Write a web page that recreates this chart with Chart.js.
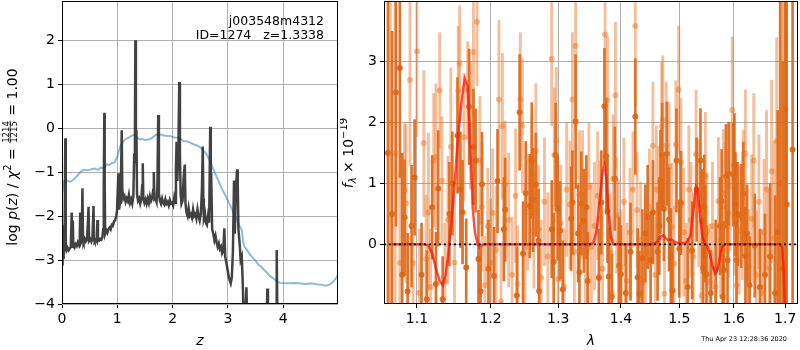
<!DOCTYPE html>
<html>
<head>
<meta charset="utf-8">
<script src="https://cdn.jsdelivr.net/npm/chart.js@4.4.1/dist/chart.umd.min.js"></script>
<style>
  html, body { margin: 0; padding: 0; background: #fff; }
  #wrap { position: relative; width: 800px; height: 350px; overflow: hidden; }
  canvas { position: absolute; top: 0; }
  #pz { left: 0; }
  #spec { left: 340px; }
</style>
</head>
<body>
<div id="wrap">
  <canvas id="pz" width="345" height="350"></canvas>
  <canvas id="spec" width="460" height="350"></canvas>
</div>
<script>
// redshift probability, log p(z)
const zGrid = [
  0.000,0.010,0.020,0.030,0.045,0.060,0.068,0.080,0.100,0.120,
  0.140,0.160,0.175,0.185,0.195,0.205,0.225,0.245,0.265,0.285,
  0.305,0.320,0.330,0.340,0.355,0.370,0.380,0.390,0.410,0.430,
  0.450,0.470,0.480,0.490,0.510,0.530,0.550,0.570,0.580,0.590,
  0.610,0.630,0.640,0.650,0.670,0.690,0.710,0.730,0.745,0.755,
  0.765,0.772,0.780,0.800,0.820,0.840,0.860,0.880,0.900,0.920,
  0.940,0.960,0.980,0.995,1.020,1.030,1.050,1.065,1.080,1.090,
  1.110,1.130,1.150,1.170,1.190,1.210,1.230,1.250,1.270,1.290,
  1.305,1.318,1.326,1.336,1.346,1.356,1.375,1.395,1.415,1.435,
  1.450,1.460,1.470,1.490,1.510,1.530,1.550,1.570,1.590,1.610,
  1.630,1.650,1.660,1.670,1.690,1.710,1.725,1.740,1.752,1.770,
  1.790,1.810,1.830,1.850,1.870,1.890,1.910,1.930,1.950,1.970,
  1.990,2.010,2.030,2.050,2.060,2.072,2.085,2.105,2.120,2.132,
  2.145,2.160,2.180,2.200,2.220,2.232,2.250,2.270,2.290,2.310,
  2.330,2.350,2.370,2.390,2.410,2.430,2.450,2.470,2.490,2.510,
  2.530,2.545,2.555,2.565,2.585,2.600,2.620,2.640,2.660,2.680,
  2.690,2.700,2.715,2.735,2.755,2.775,2.795,2.815,2.835,2.855,
  2.875,2.895,2.915,2.935,2.950,2.970,2.990,3.010,3.030,3.050,
  3.070,3.090,3.110,3.125,3.140,3.165,3.178,3.190,3.210,3.230,
  3.250,3.270,3.285,3.300,3.320,3.335,3.345,3.400,3.500,3.600,
  3.700,3.712,3.724,3.800,3.870,3.882,3.894,4.000,4.500,5.000
];
const logPz = [
  -3.10,-2.20,-2.95,-2.80,-2.75,-0.23,-2.70,-2.78,-2.72,-2.78,
  -2.74,-2.70,-1.92,-2.70,-2.10,-2.68,-2.72,-2.64,-2.68,-2.60,
  -2.66,-2.58,-1.92,-2.62,-2.58,-1.37,-2.56,-2.60,-2.52,-2.58,
  -2.54,-2.10,-1.79,-2.56,-2.52,-2.58,-2.50,-1.77,-2.55,-2.58,
  -2.54,-2.58,-2.09,-2.55,-2.56,-2.52,-2.54,-2.48,-2.30,-1.40,
   0.35,-1.20,-2.40,-2.32,-2.38,-2.30,-2.26,-2.30,-2.20,-2.22,
  -2.12,-2.10,-2.00,-1.88,-1.03,-1.85,-1.70,-1.30,-0.05,-1.40,
  -1.60,-1.55,-1.68,-1.60,-1.66,-1.52,-1.70,-1.62,-1.72,-1.55,
  -0.60,-0.40, 2.00,-0.80,-0.05,-1.50,-1.65,-1.60,-1.72,-1.62,
  -1.30,-0.80,-1.60,-1.70,-1.62,-1.72,-1.60,-1.70,-1.55,-1.65,
  -1.58,-1.40,-1.00,-1.62,-1.60,-1.68,-1.30, 0.30,-1.50,-1.65,
  -1.72,-1.60,-1.70,-1.74,-1.62,-1.72,-1.68,-1.76,-1.64,-1.72,
  -1.70,-1.76,-1.58,-1.70,-0.90,-0.31,-1.20,-0.40, 1.05,-0.60,
  -1.50,-1.72,-1.65,-1.10,-0.83,-1.70,-1.92,-2.00,-1.82,-2.00,
  -1.96,-2.04,-1.85,-2.00,-1.96,-2.06,-1.85,-2.00,-2.10,-1.95,
  -1.40,-0.42,-1.60,-2.05,-1.95,-2.15,-2.20,-2.00,-2.15, 0.03,
  -1.30,-1.24,-2.30,-2.40,-2.55,-2.45,-2.60,-2.70,-2.62,-2.75,
  -2.70,-2.85,-2.80,-2.28,-2.92,-3.05,-3.20,-3.35,-3.45,-3.53,
  -3.40,-2.80,-1.19,-2.40,-1.50,-0.94,-1.30,-2.30,-2.60,-3.00,
  -2.92,-3.60,-4.30,-4.20,-4.10,-3.62,-4.30,-4.60,-4.80,-4.70,
  -4.50,-3.65,-4.50,-4.60,-4.40,-2.77,-4.40,-4.80,-5.00,-5.50
];

// template-fit chi2 curve (scaled)
const zChi = [
  0.00,0.03,0.06,0.10,0.15,0.20,0.25,0.30,0.35,0.40,
  0.45,0.50,0.55,0.60,0.65,0.70,0.75,0.80,0.85,0.90,
  0.95,1.00,1.05,1.10,1.15,1.20,1.25,1.30,1.35,1.40,
  1.45,1.50,1.55,1.60,1.65,1.70,1.75,1.80,1.85,1.90,
  1.95,2.00,2.05,2.10,2.15,2.20,2.25,2.30,2.35,2.40,
  2.45,2.50,2.55,2.60,2.65,2.70,2.75,2.80,2.85,2.90,
  2.95,3.00,3.05,3.10,3.15,3.20,3.25,3.28,3.30,3.35,
  3.40,3.45,3.50,3.55,3.60,3.65,3.70,3.75,3.80,3.85,
  3.90,3.95,4.00,4.10,4.20,4.30,4.40,4.50,4.60,4.70,
  4.75,4.80,4.85,4.90,4.95,5.00
];
const chiCurve = [
  -1.50,-1.22,-1.18,-1.20,-1.22,-1.18,-1.12,-1.05,-0.98,-0.95,
  -0.96,-0.95,-0.93,-0.92,-0.95,-0.90,-0.92,-0.82,-0.84,-0.80,
  -0.78,-0.65,-0.42,-0.32,-0.25,-0.22,-0.18,-0.15,-0.20,-0.26,
  -0.25,-0.27,-0.26,-0.25,-0.20,-0.15,-0.15,-0.15,-0.17,-0.18,
  -0.18,-0.20,-0.22,-0.22,-0.25,-0.30,-0.30,-0.32,-0.35,-0.38,
  -0.40,-0.44,-0.50,-0.57,-0.68,-0.82,-0.98,-1.12,-1.26,-1.40,
  -1.52,-1.65,-1.78,-1.92,-2.05,-2.20,-2.32,-2.62,-2.70,-2.78,
  -2.88,-2.95,-3.02,-3.10,-3.15,-3.22,-3.28,-3.35,-3.40,-3.45,
  -3.50,-3.52,-3.53,-3.53,-3.52,-3.53,-3.55,-3.53,-3.55,-3.56,
  -3.58,-3.58,-3.55,-3.50,-3.42,-3.32
];

// spectrum, grism orientation A (light) and B (dark), flux in 1e-19
const lamLight = [
  1.066,1.072,1.078,1.084,1.086,1.091,1.095,1.100,1.103,1.109,
  1.112,1.115,1.118,1.122,1.125,1.130,1.133,1.137,1.141,1.145,
  1.150,1.155,1.157,1.163,1.168,1.172,1.176,1.181,1.185,1.188,
  1.192,1.196,1.200,1.203,1.208,1.212,1.215,1.217,1.221,1.226,
  1.231,1.236,1.239,1.243,1.246,1.250,1.254,1.260,1.263,1.266,
  1.270,1.274,1.279,1.284,1.290,1.294,1.297,1.300,1.304,1.309,
  1.313,1.318,1.322,1.325,1.327,1.333,1.338,1.342,1.348,1.352,
  1.357,1.362,1.366,1.370,1.374,1.378,1.382,1.385,1.387,1.391,
  1.393,1.396,1.400,1.405,1.410,1.415,1.420,1.424,1.427,1.433,
  1.437,1.441,1.448,1.454,1.458,1.460,1.464,1.469,1.471,1.474,
  1.477,1.482,1.487,1.491,1.494,1.499,1.503,1.508,1.512,1.517,
  1.521,1.525,1.530,1.535,1.540,1.547,1.550,1.555,1.560,1.566,
  1.571,1.575,1.580,1.584,1.590,1.593,1.597,1.601,1.605,1.610,
  1.616,1.618,1.622,1.625,1.628,1.634,1.638,1.643,1.648,1.653,
  1.658,1.663,1.668,1.673,1.678,1.683,1.688,1.693,1.697
];
const fluxLight = [
   2.00, 1.50,-0.30, 0.89, 0.67, 2.70,-0.30, 3.17,-0.80, 1.66,
  -0.24, 0.53,-0.70, 1.38, 1.44, 2.53, 1.05,-0.60, 0.40, 1.60,
  -0.30, 2.53, 2.97, 1.76, 2.53, 1.96, 3.16, 3.66, 1.38, 0.61,
  -0.67, 0.30,-0.30, 0.52,-0.09, 2.38,-0.94, 1.94, 0.98, 0.40,
  -0.50, 0.80,-0.65, 2.38, 1.95,-0.05, 0.53, 1.08, 0.23, 1.54,
   0.25,-0.55, 0.70,-0.20, 3.05, 1.47, 1.71,-0.57, 0.35,-0.69,
   0.90, 0.65, 2.38,-0.12, 3.26, 0.82, 0.82,-0.07, 0.94,-0.04,
   0.30, 0.80, 0.42,-0.40, 3.45, 2.37,-0.12,-0.80, 1.08, 2.45,
   0.48, 0.01,-0.38, 0.70,-0.60, 0.20, 0.90, 3.59, 0.56, 0.07,
  -0.62,-0.15, 0.62, 1.62,-0.50, 0.90, 0.66, 1.94, 2.05,-0.81,
   1.62, 1.28, 0.29,-0.32, 1.64, 2.54, 1.35, 0.20,-0.60, 0.90,
   0.40,-0.20, 1.48, 0.68,-0.84, 1.12, 0.23,-0.62, 0.30,-0.70,
   0.71, 0.08, 0.84, 0.62, 0.51, 0.95, 2.21, 0.44,-0.67, 0.23,
   0.47, 0.83, 1.49,-0.02,-0.37, 0.42, 1.38,-0.50, 0.70,-0.80,
   0.20, 0.90,-0.40, 1.20, 0.10, 1.70,-0.30, 2.20, 1.00
];
const errLight = [
  3.00,2.60,1.50,1.10,1.30,1.40,1.30,1.40,1.05,1.20,
  1.05,1.30,0.95,1.10,1.20,0.95,1.05,0.95,1.05,1.30,
  1.10,1.05,0.95,1.05,0.80,1.05,1.05,1.05,1.05,1.05,
  0.80,0.95,1.05,1.05,1.05,1.30,0.95,1.20,1.05,1.10,
  0.95,1.10,0.95,1.10,1.10,1.05,0.95,1.05,0.95,1.10,
  1.05,0.95,1.05,1.05,1.10,1.10,1.20,1.05,0.95,0.95,
  1.10,1.05,1.10,1.05,1.40,1.05,1.05,1.05,1.05,1.05,
  1.05,1.05,0.95,0.95,1.10,1.05,0.95,0.95,1.05,1.20,
  0.95,1.05,0.95,1.05,0.95,1.05,0.95,1.30,0.95,0.95,
  0.80,0.95,0.95,1.05,0.95,1.05,0.95,1.05,1.05,0.95,
  1.05,1.05,1.05,0.95,1.05,1.05,1.05,1.05,0.95,1.05,
  0.95,1.05,1.05,1.05,0.95,1.05,0.95,0.95,1.05,0.95,
  1.05,0.95,1.05,1.05,1.05,1.05,1.20,0.95,0.95,1.05,
  1.05,1.05,1.05,0.95,0.95,1.05,1.10,1.05,1.10,1.05,
  1.20,1.30,1.30,1.50,1.60,1.70,2.20,2.60,3.00
];
const lamDark = [
  1.063,1.068,1.073,1.078,1.081,1.084,1.088,1.093,1.097,1.106,
  1.113,1.120,1.125,1.128,1.134,1.143,1.147,1.154,1.158,1.161,
  1.166,1.170,1.176,1.179,1.183,1.186,1.188,1.197,1.205,1.210,
  1.219,1.221,1.238,1.242,1.247,1.251,1.257,1.260,1.262,1.266,
  1.270,1.271,1.290,1.293,1.296,1.299,1.303,1.307,1.320,1.322,
  1.327,1.331,1.333,1.336,1.340,1.344,1.346,1.364,1.368,1.373,
  1.376,1.378,1.380,1.385,1.390,1.397,1.400,1.408,1.416,1.424,
  1.428,1.431,1.436,1.441,1.445,1.450,1.454,1.462,1.465,1.467,
  1.470,1.473,1.478,1.482,1.485,1.488,1.495,1.500,1.503,1.515,
  1.523,1.531,1.538,1.541,1.543,1.545,1.547,1.549,1.557,1.566,
  1.574,1.577,1.579,1.581,1.585,1.588,1.590,1.599,1.601,1.603,
  1.605,1.607,1.614,1.618,1.622,1.625,1.630,1.640,1.650,1.660,
  1.670,1.680,1.685,1.690,1.695,1.700,1.703,1.715
];
const fluxDark = [
   1.50, 0.50, 2.50, 2.90,-0.50, 0.44,-0.77, 0.30, 1.10,-0.50,
  -0.90, 0.61,-0.65, 0.92,-0.90, 0.50, 1.00, 1.79, 0.90, 0.53,
  -0.38, 2.26, 1.60, 1.38,-0.24,-0.77, 0.99,-0.40,-0.52, 1.04,
   0.25, 0.57,-0.84, 2.17,-0.15, 0.84, 0.63, 1.38, 0.73, 0.98,
   0.06,-0.77, 0.25,-0.29, 1.47, 0.59, 0.23,-0.74, 0.42, 0.69,
   2.02, 0.18,-0.46, 0.67, 0.39, 0.61,-0.60,-0.55, 0.69, 2.27,
   1.45, 0.55,-0.53,-0.86, 1.08,-0.35,-0.49,-0.80,-0.12, 2.10,
  -0.54,-0.81,-0.23, 0.18, 0.45,-0.26, 0.53,-0.12, 0.30, 1.03,
   1.47, 0.58, 1.49, 0.41,-0.21,-0.76, 1.38,-0.07, 0.68,-0.70,
  -0.10, 0.90, 1.38, 0.38,-0.39, 0.62, 0.18,-0.49,-0.80,-0.40,
   0.30, 0.71,-0.86,-0.42, 1.12,-0.26, 1.16, 1.15, 1.30, 0.66,
  -0.26, 0.50, 0.47, 0.83,-0.19, 0.18,-0.67,-0.02,-0.70,-0.50,
  -0.20,-0.80, 0.20, 1.00,-0.40, 2.23, 0.66, 1.56
];
const errDark = [
  3.50,3.00,2.20,1.80,2.00,0.95,0.95,1.00,0.95,0.85,
  0.80,0.85,0.85,0.95,0.70,0.85,0.85,0.95,0.95,0.85,
  0.80,0.95,0.95,0.85,0.80,0.70,0.85,0.80,0.80,0.85,
  0.85,0.85,0.80,0.95,0.85,0.85,0.85,0.95,0.85,0.85,
  0.85,0.80,0.80,0.80,0.85,0.85,0.80,0.80,0.85,0.85,
  1.10,0.80,0.80,0.85,0.85,0.85,0.80,0.80,0.85,0.95,
  0.95,0.85,0.80,0.70,0.85,0.80,0.80,0.80,0.80,0.95,
  0.80,0.70,0.80,0.80,0.85,0.80,0.85,0.80,0.80,0.85,
  0.85,0.85,0.85,0.85,0.80,0.80,0.85,0.80,0.85,0.80,
  0.80,0.85,0.85,0.85,0.80,0.85,0.80,0.80,0.70,0.80,
  0.80,0.85,0.70,0.80,0.85,0.80,0.85,0.85,0.85,0.85,
  0.80,0.85,0.85,0.85,0.80,0.80,0.80,0.85,0.95,1.00,
  1.20,1.60,2.00,3.00,3.40,3.50,3.50,3.00
];

// best-fit line model
const lamModel = [
  1.068,1.110,1.115,1.120,1.125,1.130,1.134,1.138,1.142,1.146,
  1.150,1.155,1.160,1.164,1.168,1.172,1.175,1.178,1.182,1.185,
  1.190,1.350,1.355,1.360,1.365,1.370,1.373,1.376,1.380,1.384,
  1.388,1.455,1.462,1.468,1.472,1.476,1.480,1.486,1.492,1.500,
  1.510,1.515,1.520,1.525,1.530,1.533,1.537,1.541,1.545,1.550,
  1.555,1.560,1.565,1.568,1.572,1.576,1.580,1.585,1.690,1.694,
  1.697,1.700
];
const fluxModel = [
   0.00, 0.00,-0.02,-0.15,-0.40,-0.60,-0.67,-0.50,-0.10, 0.40,
   1.00, 1.80, 2.40, 2.72, 2.60, 1.50, 0.60, 0.20, 0.00,-0.05,
   0.00, 0.00, 0.03, 0.20, 0.70, 1.20, 1.30, 1.10, 0.50, 0.10,
   0.00, 0.00, 0.05, 0.13, 0.15, 0.10, 0.07, 0.08, 0.04, 0.02,
   0.02, 0.05, 0.15, 0.55, 0.95, 0.90, 0.50, 0.15, 0.02,-0.02,
  -0.15,-0.35,-0.48,-0.45,-0.30,-0.10,-0.02, 0.00, 0.00,-0.05,
  -0.40,-1.20
];

const zTicks = [0, 1, 2, 3, 4];
const pzTicks = [-4, -3, -2, -1, 0, 1, 2];
const lamTicks = [1.1, 1.2, 1.3, 1.4, 1.5, 1.6, 1.7];
const fluxTicks = [0, 1, 2, 3];

const FONT = '"DejaVu Sans"';
Chart.defaults.font.family = FONT;
Chart.defaults.color = '#000';

const minus = v => (v < 0 ? '\u2212' + Math.abs(v) : String(v));

// fixed axis band; label overhang must not shrink the plot area
function fixedFit(side, size) {
  return s => {
    s[side] = size;
    s.paddingTop = 0; s.paddingBottom = 0; s.paddingLeft = 0; s.paddingRight = 0;
  };
}

function axis(min, max, ticks, fmt, fit, type) {
  return {
    type: type || 'linear',
    min: min,
    max: max,
    offset: false,
    afterBuildTicks: s => { s.ticks = ticks.map(v => ({ value: v })); },
    afterFit: fit,
    border: { display: false },
    grid: { color: '#b0b0b0', lineWidth: 1, tickColor: '#000', tickLength: 4, offset: false },
    ticks: { font: { size: 14 }, color: '#000', padding: 3, autoSkip: false, maxRotation: 0, callback: fmt }
  };
}

// black box around the plotting area
const frame = {
  id: 'frame',
  afterDatasetsDraw(chart) {
    const { ctx, chartArea: a } = chart;
    ctx.save();
    ctx.strokeStyle = '#000';
    ctx.lineWidth = 1;
    ctx.strokeRect(a.left + 0.5, a.top + 0.5, a.right - a.left - 1, a.bottom - a.top - 1);
    ctx.restore();
  }
};

// draw a row of text pieces (fonts, offsets, fractions), optionally rotated
function richText(ctx, parts, x, y, rotate) {
  ctx.save();
  ctx.translate(x, y);
  if (rotate) ctx.rotate(-Math.PI / 2);
  ctx.fillStyle = '#000';
  ctx.textBaseline = 'alphabetic';
  let total = 0;
  parts.forEach(p => {
    ctx.font = p.font;
    p.w = p.frac
      ? Math.max(ctx.measureText(p.frac[0]).width, ctx.measureText(p.frac[1]).width) + 2
      : ctx.measureText(p.text).width;
    total += p.w;
  });
  let cx = -total / 2;
  parts.forEach(p => {
    ctx.font = p.font;
    if (p.frac) {
      ctx.textAlign = 'center';
      ctx.fillText(p.frac[0], cx + p.w / 2, -8.5);
      ctx.fillText(p.frac[1], cx + p.w / 2, 0);
      ctx.fillRect(cx + 0.5, -7.3, p.w - 1, 0.8);
    } else {
      ctx.textAlign = 'left';
      ctx.fillText(p.text, cx, p.dy || 0);
    }
    cx += p.w;
  });
  ctx.restore();
}

const F = '14px ' + FONT, FI = 'italic 14px ' + FONT;

const pzLabels = {
  id: 'pzLabels',
  afterDraw(chart) {
    const ctx = chart.ctx;
    richText(ctx, [
      { text: 'log ', font: F }, { text: 'p', font: FI }, { text: '(', font: F },
      { text: 'z', font: FI }, { text: ') / ', font: F }, { text: '\u03c7', font: FI },
      { text: '2', font: '10px ' + FONT, dy: -6 }, { text: ' = ', font: F },
      { frac: ['1214', '1215'], font: '8.5px ' + FONT }, { text: ' = 1.00', font: F }
    ], 17, 157, true);
    richText(ctx, [{ text: 'z', font: FI }], 200, 345, false);
    ctx.save();
    ctx.font = '12.5px ' + FONT;
    ctx.textAlign = 'right';
    ctx.fillStyle = '#000';
    ctx.fillText('j003548m4312', 324, 25);
    ctx.fillText('ID=1274   z=1.3338', 324, 39);
    ctx.restore();
  }
};

const specLabels = {
  id: 'specLabels',
  afterDraw(chart) {
    const ctx = chart.ctx;
    richText(ctx, [
      { text: 'f', font: FI }, { text: '\u03bb', font: 'italic 10px ' + FONT, dy: 3 },
      { text: ' \u00d7 10', font: F }, { text: '\u221219', font: '10px ' + FONT, dy: -6 }
    ], 13, 153, true);
    richText(ctx, [{ text: '\u03bb', font: FI }], 251, 345, false);
    ctx.save();
    ctx.font = '6.5px ' + FONT;
    ctx.textAlign = 'right';
    ctx.fillStyle = '#000';
    ctx.fillText('Thu Apr 23 12:28:36 2020', 447, 341);
    ctx.restore();
  }
};

new Chart(document.getElementById('pz'), {
  type: 'scatter',
  data: {
    datasets: [
      {
        data: zGrid.map((z, i) => ({ x: z, y: logPz[i] })),
        showLine: true, borderColor: 'rgba(45,45,45,0.9)', borderWidth: 2.5,
        pointRadius: 0, order: 1
      },
      {
        data: zChi.map((z, i) => ({ x: z, y: chiCurve[i] })),
        showLine: true, borderColor: 'rgba(31,119,180,0.5)', borderWidth: 2,
        pointRadius: 0, order: 2
      }
    ]
  },
  options: {
    responsive: false,
    animation: false,
    events: [],
    layout: { autoPadding: false, padding: { left: 0, right: 7, top: 1, bottom: 0 } },
    plugins: { legend: { display: false }, tooltip: { enabled: false } },
    scales: {
      x: axis(0, 4.99, zTicks, v => String(v), fixedFit('height', 46)),
      y: axis(-4, 2.89, pzTicks, minus, fixedFit('width', 62))
    }
  },
  plugins: [frame, pzLabels]
});

const lamMin = 1.058, lamMax = 1.726;
const bars = (lam, flux, err) => lam.map((l, i) => ({ x: l, y: [flux[i] - err[i], flux[i] + err[i]] }));
const dots = (lam, flux) => lam.map((l, i) => ({ x: l, y: flux[i] }));

const DARK = 'rgba(218,100,20,0.9)';
const LIGHT = 'rgba(230,112,32,0.45)';

new Chart(document.getElementById('spec'), {
  type: 'scatter',
  data: {
    datasets: [
      { type: 'bar', data: bars(lamDark, fluxDark, errDark), backgroundColor: DARK,
        barThickness: 2, grouped: false, borderWidth: 0, order: 7 },
      { data: dots(lamDark, fluxDark), backgroundColor: DARK, pointRadius: 3,
        borderWidth: 0, order: 6 },
      { type: 'bar', data: bars(lamLight, fluxLight, errLight), backgroundColor: LIGHT,
        barThickness: 2.2, grouped: false, borderWidth: 0, order: 5 },
      { data: dots(lamLight, fluxLight), backgroundColor: LIGHT, pointRadius: 3,
        borderWidth: 0, order: 4 },
      { data: dots(lamModel, fluxModel), showLine: true, borderColor: 'rgba(255,20,10,0.75)',
        borderWidth: 2.5, pointRadius: 0, order: 2 },
      { data: [{ x: lamMin, y: 0 }, { x: lamMax, y: 0 }], showLine: true, borderColor: '#000',
        borderWidth: 1.6, borderDash: [2, 3], pointRadius: 0, order: 1 }
    ]
  },
  options: {
    responsive: false,
    animation: false,
    events: [],
    layout: { autoPadding: false, padding: { left: 0, right: 2, top: 1, bottom: 0 } },
    plugins: { legend: { display: false }, tooltip: { enabled: false } },
    scales: {
      x: axis(lamMin, lamMax, lamTicks, v => v.toFixed(1), fixedFit('height', 46), 'logarithmic'),
      y: axis(-0.98, 4.0, fluxTicks, minus, fixedFit('width', 44))
    }
  },
  plugins: [frame, specLabels]
});
</script>
</body>
</html>
